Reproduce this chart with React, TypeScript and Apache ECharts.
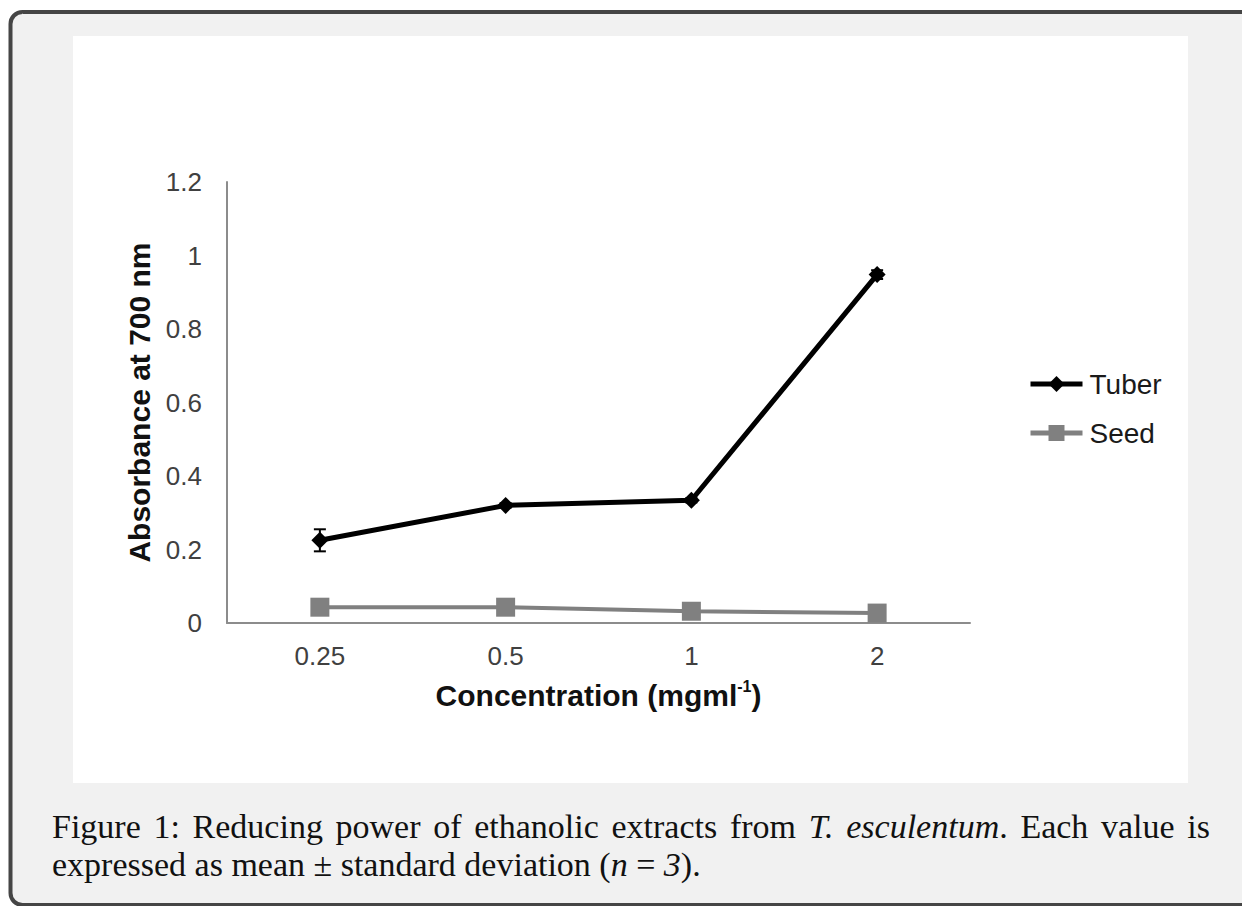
import React, { useEffect, useRef } from "react";
import * as echarts from "echarts";

const categories = ["0.25", "0.5", "1", "2"];
const tuberValues = [0.225, 0.32, 0.334, 0.948];
const tuberErrors = [0.03, 0.006, 0.006, 0.012];
const seedValues = [0.043, 0.043, 0.032, 0.027];
const seedErrors = [0.003, 0.003, 0.003, 0.003];
const Y_MIN = 0;
const Y_MAX = 1.2;
const Y_STEP = 0.2;

// caption line 1 (justified, word by word), caption line 2 (left aligned)
const captionLine1Words = [
  "{r|Figure}", "{r|1:}", "{r|Reducing}", "{r|power}", "{r|of}", "{r|ethanolic}",
  "{r|extracts}", "{r|from}", "{i|T.}", "{i|esculentum}{r|.}", "{r|Each}", "{r|value}", "{r|is}",
];
const captionLine2 = "{r|expressed as mean ± standard deviation (}{i|n}{r| = }{i|3}{r|).}";

const SERIF = "Liberation Serif";
const CAP_SIZE = 34;
const CAP_LEFT = 52;
const CAP_RIGHT = 1210;

function measureRich(ctx: CanvasRenderingContext2D, s: string) {
  let w = 0;
  const re = /\{(\w)\|([^}]*)\}/g;
  let m: RegExpExecArray | null;
  while ((m = re.exec(s))) {
    ctx.font = `${m[1] === "i" ? "italic " : ""}${CAP_SIZE}px "${SERIF}"`;
    w += ctx.measureText(m[2]).width;
  }
  return w;
}

function errorSeries(name: string, values: number[], errs: number[], color: string) {
  return {
    name: name + " error",
    type: "custom",
    z: 3,
    silent: true,
    data: values.map((v, i) => [i, v - errs[i], v + errs[i]]),
    renderItem: (_params: any, api: any) => {
      const x = api.value(0);
      const pLo = api.coord([x, api.value(1)]);
      const pHi = api.coord([x, api.value(2)]);
      const w = 6;
      const style = { stroke: color, lineWidth: 2 };
      return {
        type: "group",
        children: [
          { type: "line", shape: { x1: pLo[0], y1: pLo[1], x2: pHi[0], y2: pHi[1] }, style },
          { type: "line", shape: { x1: pLo[0] - w, y1: pLo[1], x2: pLo[0] + w, y2: pLo[1] }, style },
          { type: "line", shape: { x1: pHi[0] - w, y1: pHi[1], x2: pHi[0] + w, y2: pHi[1] }, style },
        ],
      };
    },
  };
}

export default function App() {
  const ref = useRef<HTMLDivElement>(null);
  useEffect(() => {
    if (!ref.current) return;
    const chart = echarts.init(ref.current, null, { renderer: "svg" });
    const capStyle = {
      r: { fontFamily: SERIF, fontSize: CAP_SIZE, fill: "#111" },
      i: { fontFamily: SERIF, fontSize: CAP_SIZE, fontStyle: "italic", fill: "#111" },
    };

    // justify the first caption line
    const canvas = document.createElement("canvas");
    const ctx = canvas.getContext("2d") as CanvasRenderingContext2D;
    const widths = captionLine1Words.map((w) => measureRich(ctx, w));
    const total = widths.reduce((a, b) => a + b, 0);
    const gap = (CAP_RIGHT - CAP_LEFT - total) / (captionLine1Words.length - 1);
    let cx = CAP_LEFT;
    const line1Texts = captionLine1Words.map((w, i) => {
      const el = {
        type: "text",
        x: cx,
        y: 826,
        style: { text: w, verticalAlign: "middle", rich: capStyle },
      };
      cx += widths[i] + gap;
      return el;
    });

    chart.setOption({
      animation: false,
      backgroundColor: "#ffffff",
      graphic: [
        {
          type: "rect",
          z: -10,
          shape: { x: 10.5, y: 12, width: 1300, height: 893, r: 12 },
          style: { fill: "#f1f1f1", stroke: "#454545", lineWidth: 4 },
        },
        {
          type: "rect",
          z: -9,
          shape: { x: 73, y: 36, width: 1115, height: 747 },
          style: { fill: "#ffffff" },
        },
        ...line1Texts,
        {
          type: "text",
          x: CAP_LEFT,
          y: 864,
          style: { text: captionLine2, verticalAlign: "middle", rich: capStyle },
        },
      ],
      grid: { left: 227, top: 182, width: 743, height: 441, containLabel: false },
      legend: {
        orient: "vertical",
        left: 1028,
        top: 369,
        padding: 0,
        itemGap: 19,
        itemWidth: 52,
        itemHeight: 20,
        data: ["Tuber", "Seed"],
        lineStyle: { width: 5 },
        textStyle: { fontFamily: "Liberation Sans", fontSize: 28, color: "#1a1a1a", lineHeight: 30, padding: [0, 0, 0, 2] },
      },
      xAxis: {
        type: "category",
        data: categories,
        boundaryGap: true,
        axisLine: { lineStyle: { color: "#8c8c8c", width: 2 } },
        axisTick: { show: false },
        axisLabel: { fontFamily: "Liberation Sans", fontSize: 26, color: "#404040", margin: 20 },
        name: "Concentration (mgml{sup|-1})",
        nameLocation: "middle",
        nameGap: 55,
        nameTextStyle: {
          fontFamily: "Liberation Sans",
          fontSize: 30,
          fontWeight: "bold",
          color: "#111",
          lineHeight: 34,
          rich: {
            sup: { fontFamily: "Liberation Sans", fontSize: 16, fontWeight: "bold", color: "#111", verticalAlign: "top", lineHeight: 20 },
          },
        },
      },
      yAxis: {
        type: "value",
        min: Y_MIN,
        max: Y_MAX,
        interval: Y_STEP,
        splitLine: { show: false },
        axisLine: { show: true, lineStyle: { color: "#8c8c8c", width: 2 } },
        axisTick: { show: false },
        axisLabel: { fontFamily: "Liberation Sans", fontSize: 26, color: "#404040", margin: 25 },
        name: "Absorbance at 700 nm",
        nameLocation: "middle",
        nameGap: 68,
        nameTextStyle: { fontFamily: "Liberation Sans", fontSize: 30, fontWeight: "bold", color: "#111" },
      },
      series: [
        {
          name: "Tuber",
          type: "line",
          data: tuberValues,
          z: 5,
          symbol: "diamond",
          symbolSize: 17,
          itemStyle: { color: "#000000" },
          lineStyle: { color: "#000000", width: 5 },
        },
        {
          name: "Seed",
          type: "line",
          data: seedValues,
          z: 4,
          symbol: "rect",
          symbolSize: 19,
          itemStyle: { color: "#808080" },
          lineStyle: { color: "#808080", width: 4 },
        },
        errorSeries("Tuber", tuberValues, tuberErrors, "#000000"),
        errorSeries("Seed", seedValues, seedErrors, "#808080"),
      ],
    });
    return () => chart.dispose();
  }, []);
  return (
    <div
      ref={ref}
      style={{ position: "fixed", left: 0, top: 0, width: 1242, height: 906 }}
    />
  );
}
